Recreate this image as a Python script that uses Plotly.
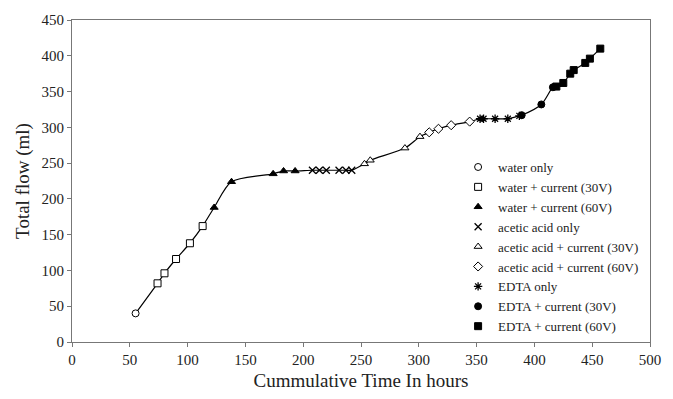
import plotly.graph_objects as go

# Data
water_only_x = [55]
water_only_y = [40]
water30_x = [74, 80, 90, 102, 113]
water30_y = [82, 96, 116, 138, 162]
water60_x = [123, 138, 174, 183, 193]
water60_y = [188, 224, 235, 239, 239]
acetic_x = [208, 214, 220, 231, 237, 242]
acetic_y = [240, 240, 240, 240, 240, 240]
acetic30_x = [253, 258, 288, 301]
acetic30_y = [249, 254, 271, 287]
acetic60_x = [309, 317, 328, 344]
acetic60_y = [293, 298, 303, 308]
edta_x = [353, 356, 366, 377, 387]
edta_y = [312, 312, 312, 312, 316]
edta30_x = [389, 406, 416]
edta30_y = [317, 332, 356]
edta60_x = [419, 425, 431, 434, 444, 448, 457]
edta60_y = [357, 362, 375, 380, 390, 396, 410]

series = [
    ("water only", water_only_x, water_only_y, "circle", "white"),
    ("water + current (30V)", water30_x, water30_y, "square", "white"),
    ("water + current (60V)", water60_x, water60_y, "triangle-up", "black"),
    ("acetic acid only", acetic_x, acetic_y, "x-thin", "black"),
    ("acetic acid + current (30V)", acetic30_x, acetic30_y, "triangle-up", "white"),
    ("acetic acid + current (60V)", acetic60_x, acetic60_y, "diamond", "white"),
    ("EDTA only", edta_x, edta_y, "asterisk", "black"),
    ("EDTA + current (30V)", edta30_x, edta30_y, "circle", "black"),
    ("EDTA + current (60V)", edta60_x, edta60_y, "square", "black"),
]

all_x, all_y = [], []
for _, xs, ys, _, _ in series:
    all_x += xs
    all_y += ys

fig = go.Figure()
fig.add_trace(go.Scatter(x=all_x, y=all_y, mode="lines",
                         line=dict(color="black", width=1.2, shape="spline", smoothing=0.8),
                         showlegend=False, hoverinfo="skip"))
for name, xs, ys, sym, fill in series:
    thin = sym in ("x-thin", "asterisk")
    fig.add_trace(go.Scatter(
        x=xs, y=ys, mode="markers", name=name,
        marker=dict(symbol=sym, size=7,
                    color=fill,
                    line=dict(color="black", width=1.3 if thin else 1.0)),
    ))

font = "Liberation Serif"
fig.update_layout(
    width=673, height=399,
    margin=dict(l=72, r=16, t=19, b=54),
    paper_bgcolor="white", plot_bgcolor="white",
    font=dict(family=font, color="#222222"),
    showlegend=True,
    legend=dict(x=0.668, y=0.59, xanchor="left", yanchor="top",
                bgcolor="rgba(0,0,0,0)", font=dict(family=font, size=13, color="#222222"),
                tracegroupgap=0, itemwidth=30),
    xaxis=dict(range=[0, 500], dtick=50, ticks="outside", ticklen=4, tickcolor="#777777",
               showline=True, linecolor="#777777", linewidth=1.2, mirror=True,
               showgrid=False, zeroline=False,
               tickfont=dict(family=font, size=15, color="#222222"),
               title=dict(text="Cummulative Time In hours", font=dict(family=font, size=19, color="#222222"), standoff=6)),
    yaxis=dict(range=[0, 450], dtick=50, ticks="outside", ticklen=4, tickcolor="#777777",
               showline=True, linecolor="#777777", linewidth=1.2, mirror=True,
               showgrid=False, zeroline=False,
               tickfont=dict(family=font, size=15, color="#222222"),
               title=dict(text="Total flow (ml)", font=dict(family=font, size=19, color="#222222"), standoff=6)),
)

fig.write_html("out.html")
